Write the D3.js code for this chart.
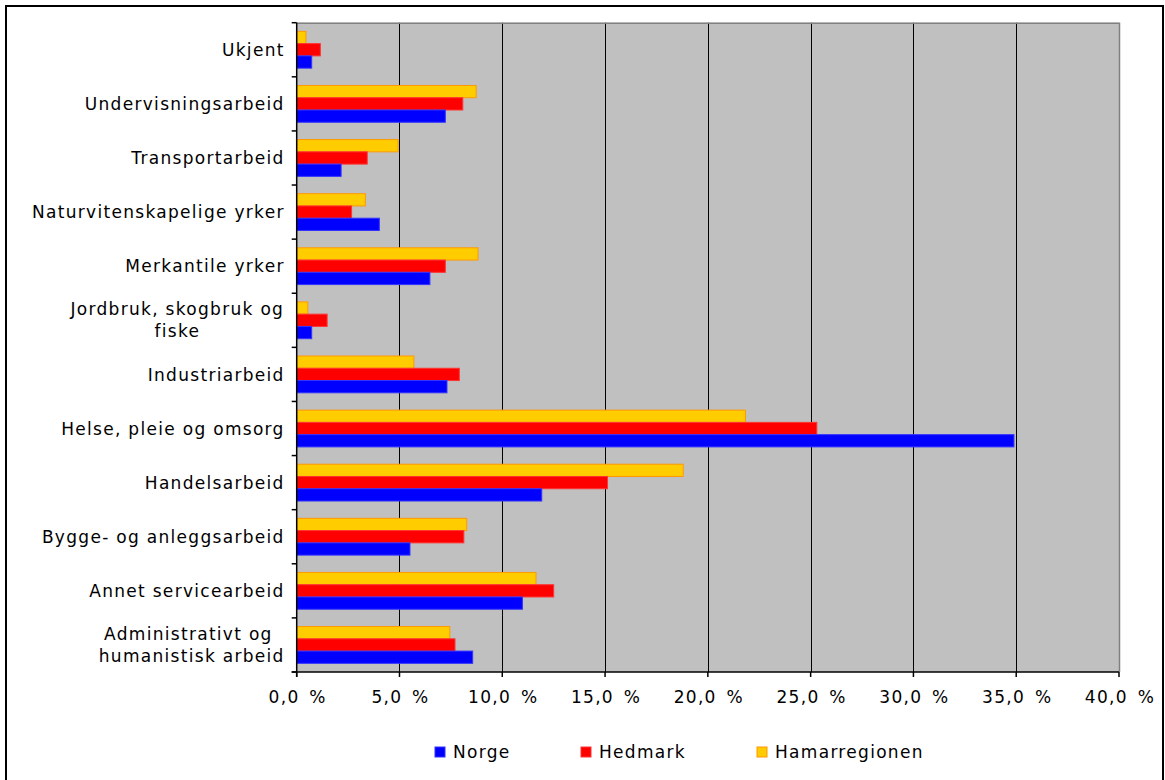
<!DOCTYPE html>
<html><head><meta charset="utf-8">
<script src="https://cdn.jsdelivr.net/npm/d3@7"></script>
<style>body{margin:0;background:#fff}svg{display:block}text{font-family:"DejaVu Sans",Verdana,sans-serif;fill:#000;letter-spacing:1.3px}</style>
</head><body><svg id="c" width="1165" height="780"></svg>
<script>
const categories = ["Ukjent","Undervisningsarbeid","Transportarbeid","Naturvitenskapelige yrker","Merkantile yrker","Jordbruk, skogbruk og fiske","Industriarbeid","Helse, pleie og omsorg","Handelsarbeid","Bygge- og anleggsarbeid","Annet servicearbeid","Administrativt og humanistisk arbeid"];
const categoryLines = [["Ukjent"],["Undervisningsarbeid"],["Transportarbeid"],["Naturvitenskapelige yrker"],["Merkantile yrker"],["Jordbruk, skogbruk og","fiske"],["Industriarbeid"],["Helse, pleie og omsorg"],["Handelsarbeid"],["Bygge- og anleggsarbeid"],["Annet servicearbeid"],["Administrativt og ","humanistisk arbeid"]];
const seriesNames = ["Hamarregionen","Hedmark","Norge"];
const hamar   = [0.45, 8.73, 4.93, 3.34, 8.82, 0.54, 5.70, 21.83, 18.80, 8.27, 11.64, 7.45];
const hedmark = [1.15, 8.08, 3.43, 2.67, 7.23, 1.48, 7.91, 25.30, 15.12, 8.13, 12.50, 7.70];
const norge   = [0.73, 7.23, 2.16, 4.02, 6.48, 0.73, 7.31, 34.89, 11.92, 5.51, 10.98, 8.56];
const xTicks = [0,5,10,15,20,25,30,35,40];
const legendOrder = ["Norge","Hedmark","Hamarregionen"];

const fills = {Hamarregionen:"#FFCC00", Hedmark:"#FF0000", Norge:"#0000FF"};
const strokes = {Hamarregionen:"#FF9900", Hedmark:"#FF3333", Norge:"#3333FF"};
const values = {Hamarregionen:hamar, Hedmark:hedmark, Norge:norge};

const svg = d3.select("#c");
svg.append("rect").attr("x",6).attr("y",6).attr("width",1157).attr("height",790)
  .attr("fill","#fff").attr("stroke","#000").attr("stroke-width",2);

const L=296.7, R=1119, T=22.7, B=672;
const x = d3.scaleLinear().domain([0,40]).range([L,R]);
const y = d3.scaleBand().domain(categories).range([T,B]).paddingInner(0.32).paddingOuter(0.16);
const ys = d3.scaleBand().domain(seriesNames).range([0,y.bandwidth()]);

const g = svg.append("g");
g.append("rect").attr("x",L).attr("y",T).attr("width",R-L).attr("height",B-T).attr("fill","#C0C0C0");
g.selectAll(".grid").data(xTicks.slice(1,-1)).join("line")
  .attr("x1",d=>Math.round(x(d))+0.5).attr("x2",d=>Math.round(x(d))+0.5).attr("y1",T).attr("y2",B)
  .attr("stroke","#000").attr("stroke-width",1);
g.append("path").attr("d",`M${L},${T+0.5}H${R+0.5}V${B}`).attr("fill","none").attr("stroke","#808080").attr("stroke-width",1.5);

categories.forEach((c,i)=>{
  seriesNames.forEach(s=>{
    g.append("rect").attr("x",x(0)).attr("y",y(c)+ys(s))
      .attr("width",x(values[s][i])-x(0)).attr("height",ys.bandwidth())
      .attr("fill",fills[s]).attr("stroke",strokes[s]).attr("stroke-width",1);
  });
});

const step = (B-T)/categories.length;
const yAx = g.append("g");
yAx.append("line").attr("x1",L).attr("x2",L).attr("y1",T).attr("y2",B+5).attr("stroke","#000").attr("stroke-width",1.5);
d3.range(categories.length+1).forEach(k=>{
  yAx.append("line").attr("x1",L-5).attr("x2",L).attr("y1",T+k*step).attr("y2",T+k*step).attr("stroke","#000").attr("stroke-width",1.5);
});
categories.forEach((c,i)=>{
  const lines = categoryLines[i];
  const cy = T+i*step+step/2;
  const lh = 22;
  const t = yAx.append("text").attr("text-anchor","middle").attr("font-size",17);
  lines.forEach((ln,j)=>{
    t.append("tspan").attr("x",0).attr("y",cy + (j-(lines.length-1)/2)*lh).attr("dy","0.36em").text(ln);
  });
  if(lines.length===1){
    t.attr("text-anchor","end"); t.selectAll("tspan").attr("x",L-12);
  } else {
    const bb = t.node().getBBox();
    t.attr("transform",`translate(${L-12-bb.width/2},0)`);
  }
});

const xAx = g.append("g").attr("transform",`translate(0,${B})`);
xAx.append("line").attr("x1",L-5).attr("x2",R).attr("y1",0).attr("y2",0).attr("stroke","#000").attr("stroke-width",1.5);
xAx.selectAll(".tk").data(xTicks).join("line").attr("x1",d=>x(d)).attr("x2",d=>x(d)).attr("y1",0).attr("y2",5).attr("stroke","#000").attr("stroke-width",1.5);
xAx.selectAll(".tl").data(xTicks).join("text").attr("x",d=>x(d)+1).attr("y",31).attr("text-anchor","middle").attr("font-size",17)
  .text(d=>d3.format(".1f")(d).replace(".",",")+"\u2002%");

const legX = {Norge:435, Hedmark:581, Hamarregionen:757};
legendOrder.forEach(s=>{
  svg.append("rect").attr("x",legX[s]).attr("y",747).attr("width",10).attr("height",10)
    .attr("fill",fills[s]).attr("stroke",strokes[s]).attr("stroke-width",1);
  svg.append("text").attr("x",legX[s]+18).attr("y",752).attr("dy","0.36em").attr("font-size",17).text(s);
});
</script></body></html>
